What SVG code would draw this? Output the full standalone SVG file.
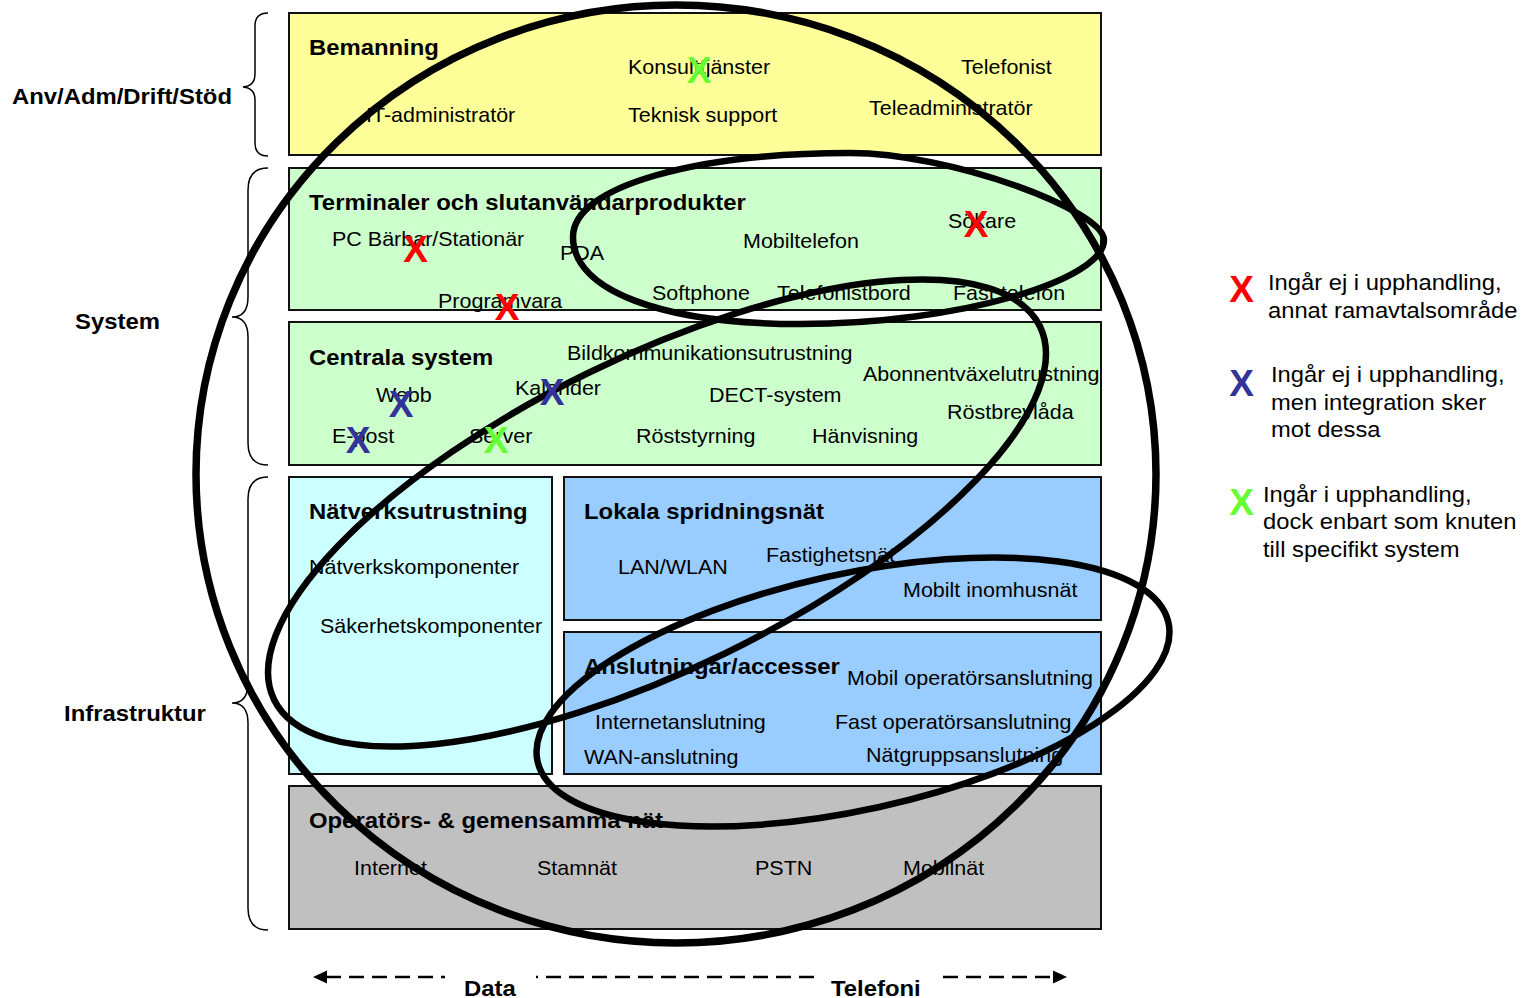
<svg xmlns="http://www.w3.org/2000/svg" width="1534" height="998" viewBox="0 0 1534 998">
<style>
text{font-family:"Liberation Sans",Arial,sans-serif;fill:#000}
.t{font-size:20px}
.h{font-size:22px;font-weight:bold}
.lg{font-size:22px}
.box{stroke:#111;stroke-width:2}
.x{font-size:37px;font-weight:bold;text-anchor:middle}
.xr{fill:#FF0000}.xb{fill:#333399}.xg{fill:#66FF33}
.brace{fill:none;stroke:#000;stroke-width:1.5}
.ell{fill:none;stroke:#000;stroke-width:6.5}
.axis{fill:none;stroke:#000;stroke-width:2.5;stroke-dasharray:15 8}
</style>
<rect width="1534" height="998" fill="#fff"/>

<g id="bemanning">
<rect class="box" x="289" y="13" width="812" height="142" fill="#FFFF99"/>
<text class="h" transform="matrix(1.085 0 0 1 309 55)">Bemanning</text>
<text class="t" transform="matrix(1.075 0 0 1 628 74)">Konsulttjänster</text>
<text class="t" transform="matrix(1.075 0 0 1 961 74)">Telefonist</text>
<text class="t" transform="matrix(1.075 0 0 1 366 122)">IT-administratör</text>
<text class="t" transform="matrix(1.075 0 0 1 628 122)">Teknisk support</text>
<text class="t" transform="matrix(1.075 0 0 1 869 115)">Teleadministratör</text>
</g>

<g id="terminaler">
<rect class="box" x="289" y="168" width="812" height="142" fill="#CCFFCC"/>
<text class="h" transform="matrix(1.088 0 0 1 309 210)">Terminaler och slutanvändarprodukter</text>
<text class="t" transform="matrix(1.075 0 0 1 332 246)">PC Bärbar/Stationär</text>
<text class="t" transform="matrix(1.075 0 0 1 560 260)">PDA</text>
<text class="t" transform="matrix(1.075 0 0 1 743 248)">Mobiltelefon</text>
<text class="t" transform="matrix(1.075 0 0 1 948 228)">Sökare</text>
<text class="t" transform="matrix(1.075 0 0 1 438 308)">Programvara</text>
<text class="t" transform="matrix(1.075 0 0 1 652 300)">Softphone</text>
<text class="t" transform="matrix(1.075 0 0 1 777 300)">Telefonistbord</text>
<text class="t" transform="matrix(1.075 0 0 1 953 300)">Fast telefon</text>
</g>

<g id="centrala">
<rect class="box" x="289" y="322" width="812" height="143" fill="#CCFFCC"/>
<text class="h" transform="matrix(1.085 0 0 1 309 365)">Centrala system</text>
<text class="t" transform="matrix(1.075 0 0 1 567 360)">Bildkommunikationsutrustning</text>
<text class="t" transform="matrix(1.075 0 0 1 863 381)">Abonnentväxelutrustning</text>
<text class="t" transform="matrix(1.075 0 0 1 376 402)">Webb</text>
<text class="t" transform="matrix(1.075 0 0 1 515 395)">Kalender</text>
<text class="t" transform="matrix(1.075 0 0 1 709 402)">DECT-system</text>
<text class="t" transform="matrix(1.075 0 0 1 947 419)">Röstbrevlåda</text>
<text class="t" transform="matrix(1.075 0 0 1 332 443)">E-post</text>
<text class="t" transform="matrix(1.075 0 0 1 469 443)">Server</text>
<text class="t" transform="matrix(1.075 0 0 1 636 443)">Röststyrning</text>
<text class="t" transform="matrix(1.075 0 0 1 812 443)">Hänvisning</text>
</g>

<g id="natverksutrustning">
<rect class="box" x="289" y="477" width="263" height="297" fill="#CCFFFF"/>
<text class="h" transform="matrix(1.085 0 0 1 309 519)">Nätverksutrustning</text>
<text class="t" transform="matrix(1.075 0 0 1 309 574)">Nätverkskomponenter</text>
<text class="t" transform="matrix(1.075 0 0 1 320 633)">Säkerhetskomponenter</text>
</g>

<g id="lokala">
<rect class="box" x="564" y="477" width="537" height="143" fill="#99CCFF"/>
<text class="h" transform="matrix(1.085 0 0 1 584 519)">Lokala spridningsnät</text>
<text class="t" transform="matrix(1.075 0 0 1 618 574)">LAN/WLAN</text>
<text class="t" transform="matrix(1.075 0 0 1 766 562)">Fastighetsnät</text>
<text class="t" transform="matrix(1.075 0 0 1 903 597)">Mobilt inomhusnät</text>
</g>

<g id="anslutningar">
<rect class="box" x="564" y="632" width="537" height="142" fill="#99CCFF"/>
<text class="h" transform="matrix(1.085 0 0 1 584 674)">Anslutningar/accesser</text>
<text class="t" transform="matrix(1.075 0 0 1 847 685)">Mobil operatörsanslutning</text>
<text class="t" transform="matrix(1.075 0 0 1 595 729)">Internetanslutning</text>
<text class="t" transform="matrix(1.075 0 0 1 835 729)">Fast operatörsanslutning</text>
<text class="t" transform="matrix(1.075 0 0 1 584 764)">WAN-anslutning</text>
<text class="t" transform="matrix(1.075 0 0 1 866 762)">Nätgruppsanslutning</text>
</g>

<g id="operatorer">
<rect class="box" x="289" y="786" width="812" height="143" fill="#C0C0C0"/>
<text class="h" transform="matrix(1.085 0 0 1 309 828)">Operatörs- &amp; gemensamma nät</text>
<text class="t" transform="matrix(1.075 0 0 1 354 875)">Internet</text>
<text class="t" transform="matrix(1.075 0 0 1 537 875)">Stamnät</text>
<text class="t" transform="matrix(1.075 0 0 1 755 875)">PSTN</text>
<text class="t" transform="matrix(1.075 0 0 1 903 875)">Mobilnät</text>
</g>

<g id="layer-labels">
<path class="brace" d="M268,13 Q255,13 255,26 L255,74 Q255,86 243,87 Q255,88 255,100 L255,143 Q255,156 268,156"/>
<path class="brace" d="M268,168 Q248,168 248,190 L248,297 Q248,317 232,317 Q248,317 248,337 L248,443 Q248,465 268,465"/>
<path class="brace" d="M268,477 Q248,477 248,499 L248,683 Q248,703 232,703 Q248,703 248,723 L248,908 Q248,930 268,930"/>
<text class="h" transform="matrix(1.085 0 0 1 12 104)">Anv/Adm/Drift/Stöd</text>
<text class="h" transform="matrix(1.085 0 0 1 75 329)">System</text>
<text class="h" transform="matrix(1.085 0 0 1 64 721)">Infrastruktur</text>
</g>

<g id="connectors">
<ellipse class="ell" style="stroke-width:7.5" cx="676" cy="474" rx="480" ry="469"/>
<path class="ell" d="M573,237 C573,185 700,153 850,153 C950,153 1104,210 1104,240 C1104,280 960,324 800,324 C660,324 573,290 573,237 Z"/>
<ellipse class="ell" cx="657" cy="513" rx="426" ry="156" transform="rotate(-26 657 513)"/>
<ellipse class="ell" cx="853" cy="692" rx="323" ry="118" transform="rotate(-12.4 853 692)"/>
</g>

<g id="marks">
<text class="x xg" x="699" y="83">X</text>
<text class="x xr" x="415.5" y="262">X</text>
<text class="x xr" x="507" y="320">X</text>
<text class="x xr" x="976" y="237">X</text>
<text class="x xb" x="401" y="417">X</text>
<text class="x xb" x="552" y="405">X</text>
<text class="x xb" x="358" y="453">X</text>
<text class="x xg" x="496" y="453">X</text>
</g>

<g id="axis">
<line class="axis" x1="326" y1="977" x2="445" y2="977"/>
<line class="axis" x1="536" y1="977" x2="816" y2="977" style="stroke-dashoffset:13"/>
<line class="axis" x1="943" y1="977" x2="1054" y2="977"/>
<polygon points="313,977 327,970.5 327,983.5" fill="#000"/>
<polygon points="1067,977 1053,970.5 1053,983.5" fill="#000"/>
<text class="h" transform="matrix(1.085 0 0 1 464 996)">Data</text>
<text class="h" transform="matrix(1.085 0 0 1 831 996)">Telefoni</text>
</g>

<g id="legend">
<text class="x xr" x="1241.5" y="302">X</text>
<text class="lg" transform="matrix(1.08 0 0 1 1268 290)">Ingår ej i upphandling,</text>
<text class="lg" transform="matrix(1.08 0 0 1 1268 318)">annat ramavtalsområde</text>
<text class="x xb" x="1241.5" y="396">X</text>
<text class="lg" transform="matrix(1.08 0 0 1 1271 382)">Ingår ej i upphandling,</text>
<text class="lg" transform="matrix(1.08 0 0 1 1271 410)">men integration sker</text>
<text class="lg" transform="matrix(1.08 0 0 1 1271 437)">mot dessa</text>
<text class="x xg" x="1241.5" y="515">X</text>
<text class="lg" transform="matrix(1.08 0 0 1 1263 502)">Ingår i upphandling,</text>
<text class="lg" transform="matrix(1.08 0 0 1 1263 529)">dock enbart som knuten</text>
<text class="lg" transform="matrix(1.08 0 0 1 1263 557)">till specifikt system</text>
</g>
</svg>
